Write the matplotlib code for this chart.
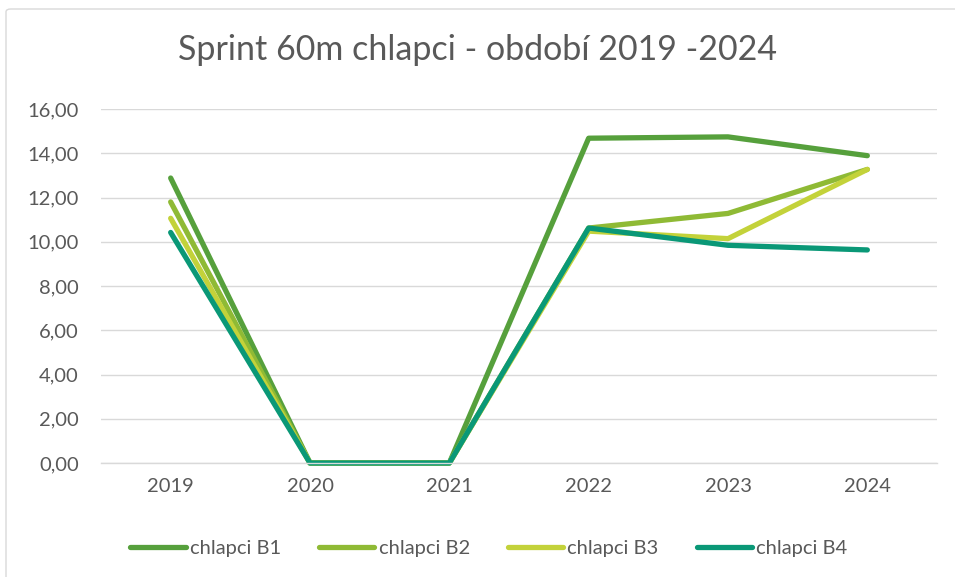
import matplotlib
matplotlib.use("Agg")
import matplotlib.pyplot as plt
from matplotlib.patches import FancyBboxPatch

years = ["2019", "2020", "2021", "2022", "2023", "2024"]
b1 = [12.88, 0.0, 0.0, 14.68, 14.74, 13.89]
b2 = [11.80, 0.0, 0.0, 10.62, 11.28, 13.27]
b3 = [11.06, 0.0, 0.0, 10.48, 10.14, 13.27]
b4 = [10.42, 0.0, 0.0, 10.62, 9.84, 9.63]
series_names = ["chlapci B1", "chlapci B2", "chlapci B3", "chlapci B4"]
colors = ["#56A03C", "#8FBA35", "#C3D23A", "#0A9877"]
yticks = [0, 2, 4, 6, 8, 10, 12, 14, 16]

plt.rcParams['font.family'] = ['Lato', 'DejaVu Sans']
txt = "#595959"

fig = plt.figure(figsize=(9.55, 5.77), dpi=100)
W, H = 955, 577
# outer border (extends past right and bottom edges like the reference)
border = FancyBboxPatch((6 / W, -20 / H), 960 / W, 588 / H,
                        boxstyle="round,pad=0,rounding_size=0.005",
                        transform=fig.transFigure, fill=False,
                        edgecolor="#D9D9D9", linewidth=1.0)
fig.patches.append(border)

ax = fig.add_axes([101 / W, 1 - 463 / H, (937 - 101) / W, (463 - 109) / H])
x = list(range(len(years)))
for vals, c, n in zip([b1, b2, b3, b4], colors, series_names):
    ax.plot(x, vals, color=c, lw=3.8, label=n, solid_capstyle="round",
            solid_joinstyle="round", clip_on=False)

ax.set_xlim(-0.5, len(years) - 0.5)
ax.set_ylim(0, 16)
ax.set_yticks(yticks)
ax.set_yticklabels([f"{v:.2f}".replace(".", ",") for v in yticks])
ax.set_xticks(x)
ax.set_xticklabels(years)
ax.tick_params(axis="both", length=0, labelsize=14.5, colors=txt)
ax.tick_params(axis="y", pad=16)
ax.tick_params(axis="x", pad=11)
ax.grid(axis="y", color="#D9D9D9", lw=1.0)
ax.set_axisbelow(True)
for s in ["top", "right", "left"]:
    ax.spines[s].set_visible(False)
ax.spines["bottom"].set_color("#D9D9D9")
ax.spines["bottom"].set_linewidth(1.0)

fig.text(0.5, 1 - 50 / H, "Sprint 60m chlapci - období 2019 -2024",
         ha="center", va="center", fontsize=24.5, color=txt)

handles, labels = ax.get_legend_handles_labels()
leg = fig.legend(handles, labels, loc="center", bbox_to_anchor=(0.512, 1 - 548 / H),
                 ncol=4, frameon=False, fontsize=14.5, handlelength=2.75,
                 handletextpad=0.2, columnspacing=1.9, labelcolor=txt)

fig.savefig("out.png", dpi=100)
